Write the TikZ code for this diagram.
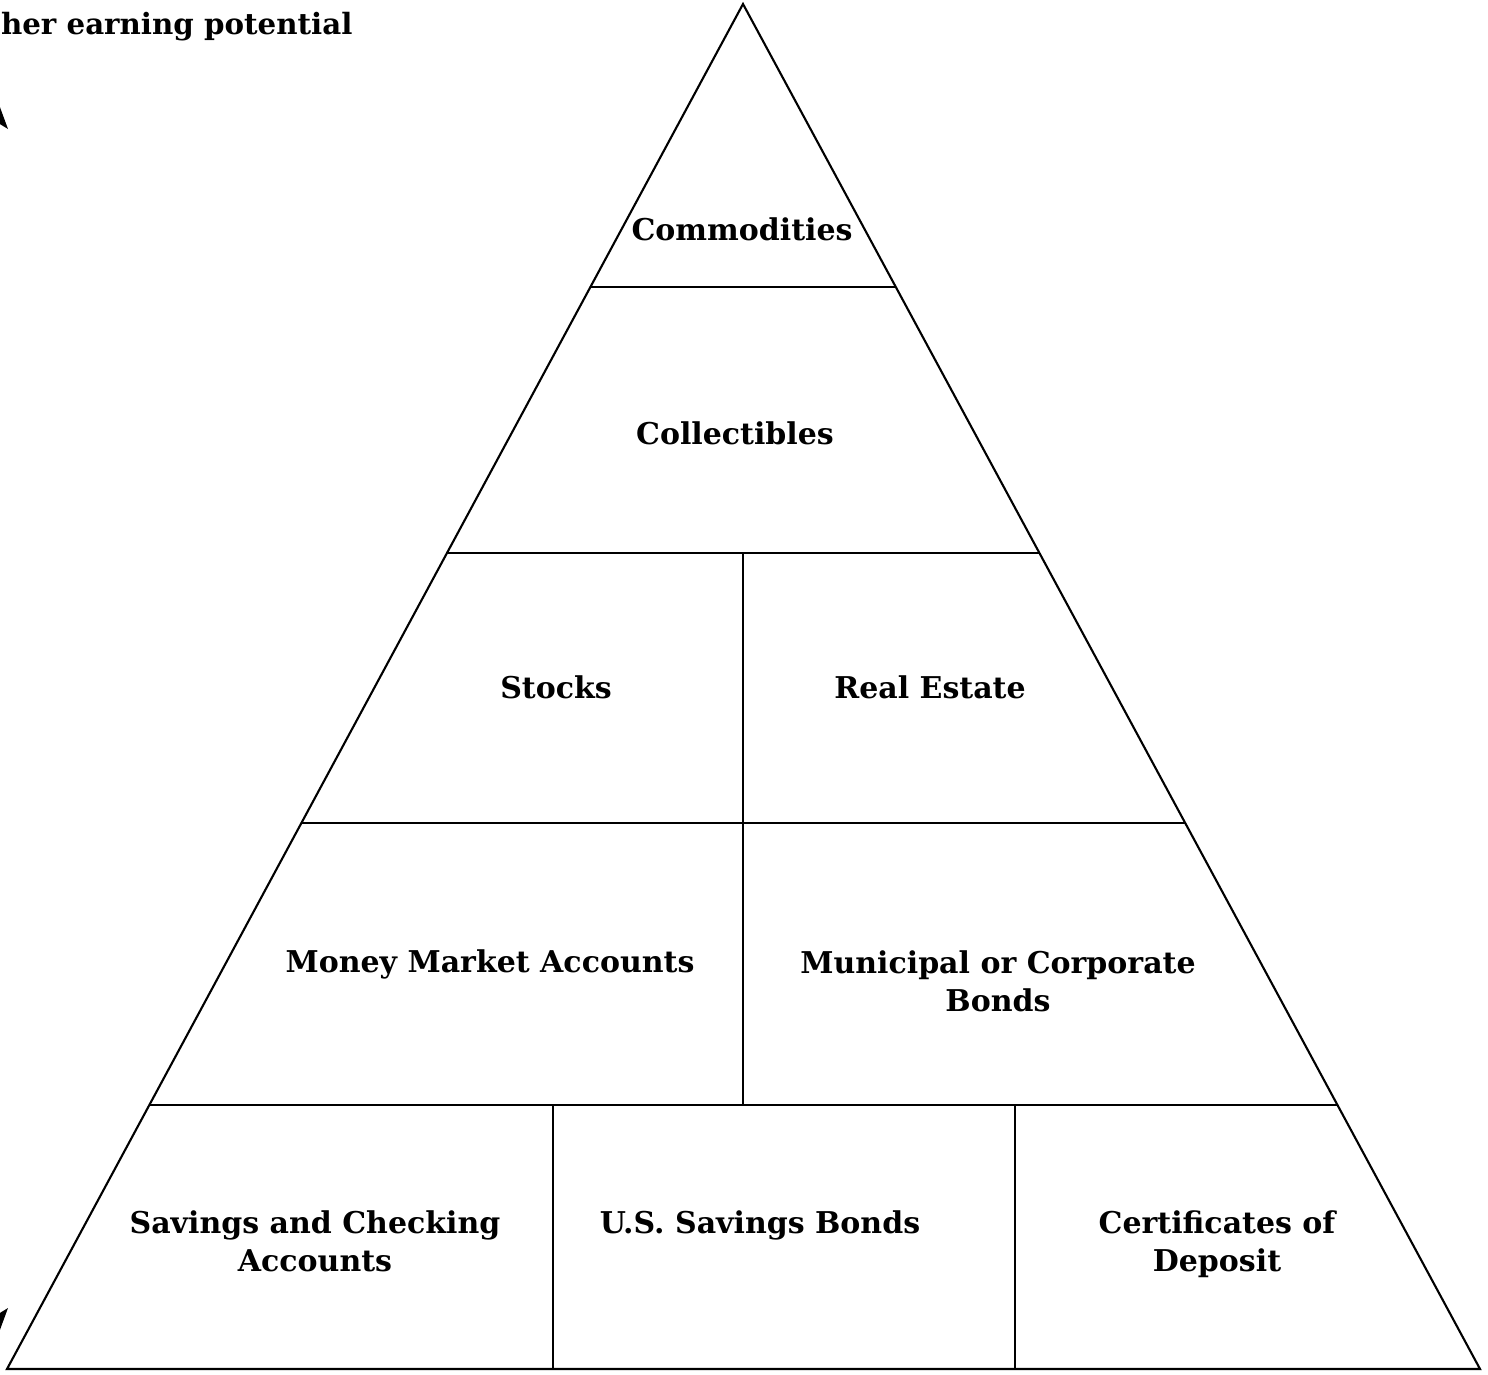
\documentclass[tikz,border=0pt]{standalone}
\usepackage{fontspec}
\setmainfont{DejaVu Serif}
\usetikzlibrary{calc}
\begin{document}
\begin{tikzpicture}[x=1pt,y=-1pt,line width=2.1pt,
  lbl/.style={font=\bfseries\fontsize{30}{38}\selectfont,align=center,inner sep=0pt,text depth=0pt},
  toplbl/.style={font=\bfseries\fontsize{29.3}{34}\selectfont,inner sep=0pt,anchor=base west}]
\useasboundingbox (0,0) rectangle (1488,1374);
\begin{scope}
\clip (0,0) rectangle (1488,1374);
% pyramid outline
\coordinate (A) at (743,4);
\coordinate (BL) at (7,1369);
\coordinate (BR) at (1480,1369);
\draw[line join=miter] (BL) -- (A) -- (BR) -- cycle;
% horizontal dividers
\coordinate (L1) at ($(A)!0.2073!(BL)$); \coordinate (R1) at ($(A)!0.2073!(BR)$);
\coordinate (L2) at ($(A)!0.4022!(BL)$); \coordinate (R2) at ($(A)!0.4022!(BR)$);
\coordinate (L3) at ($(A)!0.6!(BL)$);    \coordinate (R3) at ($(A)!0.6!(BR)$);
\coordinate (L4) at ($(A)!0.8066!(BL)$); \coordinate (R4) at ($(A)!0.8066!(BR)$);
\draw (L1) -- (R1);
\draw (L2) -- (R2);
\draw (L3) -- (R3);
\draw (L4) -- (R4);
% vertical dividers
\coordinate (V1t) at (743,553);  \coordinate (V1b) at (743,1105);
\coordinate (V2t) at (553,1105); \coordinate (V2b) at (553,1369);
\coordinate (V3t) at (1015,1105);\coordinate (V3b) at (1015,1369);
\draw (V1t) -- (V1b);
\draw (V2t) -- (V2b);
\draw (V3t) -- (V3b);
% labels
\node[lbl] (comm) at (742,229) {Commodities};
\node[lbl] (coll) at (735,433) {Collectibles};
\node[lbl] (stocks) at (556,687) {Stocks};
\node[lbl] (real) at (930,687) {Real Estate};
\node[lbl] (money) at (490,961) {Money Market Accounts};
\node[lbl] (muni) at (998,981) {Municipal or Corporate\\Bonds};
\node[lbl] (sav) at (315,1241) {Savings and Checking\\Accounts};
\node[lbl] (usb) at (760,1222) {U.S. Savings Bonds};
\node[lbl] (cd) at (1217,1241) {Certificates of\\Deposit};
% cropped side label and arrow
\node[toplbl] (hep) at (0,34) {her earning potential};
\fill (-10,80) -- (8,129) -- (-10,118) -- (-28,129) -- cycle;
\fill (-10,1357) -- (8,1308) -- (-10,1319) -- (-28,1308) -- cycle;
\end{scope}
\end{tikzpicture}
\end{document}
